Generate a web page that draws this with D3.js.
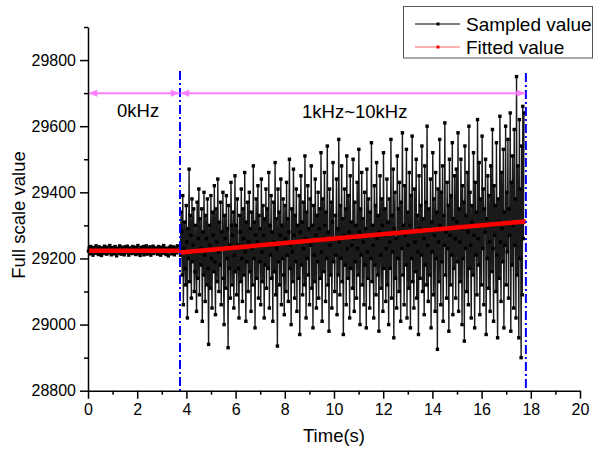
<!DOCTYPE html>
<html>
<head>
<meta charset="utf-8">
<script src="https://cdn.jsdelivr.net/npm/d3@7"></script>
<style>
  body { margin: 0; background: #fff; }
  svg { display: block; font-family: "Liberation Sans", Arial, sans-serif; }
</style>
</head>
<body>
<script>
// ---------------------
// Data
// ---------------------

// 0kHz stage: sampled every ~0.031 s starting at 0.02 s
var baseStart = 0.02, baseStep = 0.0309;
var baseValues = [
  29222,29231,29214,29236,29219,29228,29210,29233,29225,29216,29238,29221,29229,29212,29235,29218,29226,29209,29232,29224,29215,29237,29220,29230,29213,29234,29223,29217,29239,29227,
  29211,29233,29219,29229,29214,29236,29225,29208,29231,29222,29216,29238,29226,29213,29234,29220,29228,29211,29235,29223,29218,29237,29224,29210,29232,29221,29229,29215,29236,29226,
  29217,29234,29212,29230,29221,29239,29214,29227,29209,29233,29224,29218,29236,29211,29229,29220,29238,29213,29231,29225,29216,29235,29210,29228,29222,29237,29215,29232,29219,29226,
  29230,29213,29236,29220,29227,29210,29234,29223,29216,29239,29218,29231,29212,29229,29225,29208,29233,29221,29237,29214,29228,29219,29235,29211,29232,29224,29217,29238,29226,29222
];

// 1kHz~10kHz stage: sampled every ~0.0233 s starting at 3.76 s
var vibStart = 3.76, vibStep = 0.02331;
var vibValues = [
  29210,29340,29280,29150,29390,29060,29230,29310,29170,29120,29360,29250,29020,29290,29200,29470,29130,29330,29270,29080,29380,29190,29240,29350,29100,29160,29300,29220,29040,29370,
  29140,29260,29410,29090,29320,29230,29180,29350,29010,29280,29150,29400,29210,29070,29330,29260,29120,29380,29170,28940,29300,29240,29110,29390,29200,29050,29340,29270,29160,29420,
  29190,29030,29350,29250,29130,29440,29220,29100,29310,29180,29370,29060,29280,29230,29400,29140,29000,29330,29260,29110,29390,29200,29290,28930,29360,29170,29240,29080,29430,29300,
  29120,29270,29340,29050,29210,29450,29160,29300,29090,29380,29240,29170,29020,29330,29280,29130,29410,29200,29070,29350,29260,29150,29460,29220,29010,29310,29190,29370,29100,29250,
  29400,29160,29290,29040,29340,29230,29120,29480,29200,29310,28990,29270,29380,29140,29250,29420,29080,29330,29190,29290,29060,29440,29220,29130,29360,29270,29020,29320,29180,29410,
  29110,29350,29240,29170,29460,29050,29300,29210,29390,29140,29280,29010,29370,29250,29160,29490,29090,29320,29230,28935,29410,29190,29340,29120,29270,29440,29060,29300,29200,29380,
  29150,29030,29360,29260,29100,29430,29210,29320,29070,29280,29500,29170,29240,29000,29350,29220,29130,29470,29270,29080,29330,29190,29410,29040,29300,29250,29140,29390,28970,29280,
  29450,29180,29310,29090,29370,29230,29120,29510,29260,29020,29340,29200,29420,29150,29290,29060,29380,29240,29480,29110,29300,28990,29360,29210,29130,29440,29270,29050,29330,29190,
  29400,29080,29290,29350,29140,29520,29220,29010,29380,29260,29160,29460,29300,29070,29340,29200,29540,29120,29280,28980,29410,29240,29150,29370,29050,29310,29490,29190,29260,29100,
  29330,29210,29440,29030,29290,29150,29560,29250,29090,29360,29200,29480,29130,29320,28970,29270,29410,29180,29350,29060,29510,29230,29140,29390,29280,29020,29450,29170,29310,29240,
  29110,29500,29260,29040,29370,29190,29300,29080,29430,29230,29150,29530,29280,29000,29350,29210,29460,29120,29320,29250,29060,29400,29180,29290,28990,29470,29220,29140,29380,29270,
  29050,29340,29200,29550,29130,29300,29240,29020,29420,29180,29360,29090,29490,29260,29150,29330,28980,29280,29450,29210,29110,29380,29300,29040,29520,29170,29270,29350,29070,29230,
  29440,29120,29310,29000,29380,29250,29170,29560,29080,29330,29220,29470,28960,29290,29400,29140,29260,29050,29510,29200,29350,29100,29430,29280,29010,29370,29230,29580,29150,29300,
  29060,29420,29270,29180,29530,29020,29340,29240,29110,29460,29300,28990,29390,29200,29570,29130,29280,29050,29410,29250,29160,29500,29080,29330,29220,28970,29450,29290,29140,29360,
  29210,29540,29100,29320,29260,29030,29480,29180,29370,29120,29600,29240,29070,29350,29290,29150,29440,28990,29310,29220,29520,29090,29380,29270,29040,29460,29200,29340,28925,29410,
  29250,29130,29560,29300,29060,29400,29190,29480,29010,29330,29240,29610,29150,29280,29080,29430,29230,29360,28980,29500,29270,29120,29390,29210,29550,29030,29320,29170,29450,29260,
  29080,29470,29310,29190,29580,29040,29350,29250,29130,29500,29290,29000,29420,29200,29370,28950,29540,29230,29330,29100,29460,29280,29060,29600,29170,29400,29240,29020,29360,29310,
  29150,29520,29270,28990,29430,29210,29340,29090,29620,29260,29180,29490,29030,29380,29300,29120,29570,29230,29410,29060,29350,29280,29500,28970,29320,29200,29450,29110,29390,29250,
  29040,29480,29300,29160,29590,29230,29010,29420,29270,29360,29100,29550,29210,28960,29380,29310,29140,29630,29250,29070,29460,29290,29190,29530,28990,29340,29240,29600,29120,29400,
  29220,29560,29080,29350,29270,29640,28980,29430,29180,29510,29300,29050,29590,29240,29380,29020,29750,29150,29480,29310,28960,29620,29200,29410,28900,29540,29090,29660,29260,29640
];

// fitted lines (start / end)
var fitBaseX = [0, 3.74], fitBaseY = [29223, 29223];
var fitVibX = [3.74, 17.8], fitVibY = [29218, 29312];

// stage boundaries and labels
var stageEdges = [0, 3.74, 17.8];
var stageLabels = ["0kHz", "1kHz~10kHz"];
var arrowLevel = 29700;

var xMajor = [0,2,4,6,8,10,12,14,16,18,20];
var xMinor = [1,3,5,7,9,11,13,15,17,19];
var yMajor = [28800,29000,29200,29400,29600,29800];
var yMinor = [28900,29100,29300,29500,29700,29900];

var legendItems = ["Sampled value", "Fitted value"];

// ---------------------
// Chart
// ---------------------

var w = 597, h = 449;
var svg = d3.select("body").append("svg").attr("width", w).attr("height", h);
var defs = svg.append("defs");

var x = d3.scaleLinear().domain([0, 20]).range([88, 580]);
var y = d3.scaleLinear().domain([28800, 29900]).range([390.7, 27]);

var samples = [];
baseValues.forEach(function(v, i){ samples.push({t: baseStart + i*baseStep, v: v}); });
vibValues.forEach(function(v, i){ samples.push({t: vibStart + i*vibStep, v: v}); });

var line = d3.line().x(function(d){ return x(d.t); }).y(function(d){ return y(d.v); });

// sampled line + markers
svg.append("path")
  .datum(samples)
  .attr("d", line)
  .attr("fill", "none")
  .attr("stroke", "#1a1a1a")
  .attr("stroke-width", 1.4);

svg.selectAll("rect.pt")
  .data(samples)
  .enter()
  .append("rect")
  .attr("class", "pt")
  .attr("x", function(d){ return x(d.t) - 1.7; })
  .attr("y", function(d){ return y(d.v) - 1.7; })
  .attr("width", 3.4)
  .attr("height", 3.4)
  .attr("fill", "#000");

// fitted lines
[[fitBaseX, fitBaseY], [fitVibX, fitVibY]].forEach(function(f){
  svg.append("line")
    .attr("x1", x(f[0][0])).attr("y1", y(f[1][0]))
    .attr("x2", x(f[0][1])).attr("y2", y(f[1][1]))
    .attr("stroke", "#ff0000")
    .attr("stroke-width", 4.5);
});

// blue dash-dot separators
[stageEdges[1], stageEdges[2]].forEach(function(t, i){
  svg.append("line")
    .attr("x1", x(t)).attr("x2", x(t))
    .attr("y1", i == 0 ? 71 : 73).attr("y2", y(28800))
    .attr("stroke", "#0000ff")
    .attr("stroke-width", 2)
    .attr("stroke-dasharray", "9,3,2,3");
});

// pink arrows
defs.append("marker")
  .attr("id", "arr")
  .attr("viewBox", "0 0 10 8")
  .attr("refX", 10).attr("refY", 4)
  .attr("markerWidth", 11).attr("markerHeight", 7)
  .attr("markerUnits", "userSpaceOnUse")
  .attr("orient", "auto-start-reverse")
  .append("path")
  .attr("d", "M0,0 L10,4 L0,8 Z")
  .attr("fill", "#ff80ff");

for (var i = 0; i < stageLabels.length; i++) {
  svg.append("line")
    .attr("x1", x(stageEdges[i]) + 0.5).attr("x2", x(stageEdges[i+1]) - 0.5)
    .attr("y1", y(arrowLevel)).attr("y2", y(arrowLevel))
    .attr("stroke", "#ff80ff")
    .attr("stroke-width", 2)
    .attr("marker-start", "url(#arr)")
    .attr("marker-end", "url(#arr)");
}

svg.append("text").attr("x", 117).attr("y", 117).attr("font-size", 18.5).text(stageLabels[0]);
svg.append("text").attr("x", 302).attr("y", 118).attr("font-size", 18.5).text(stageLabels[1]);

// axes
var xAxis = svg.append("g").attr("transform", "translate(0," + y(28800) + ")");
xAxis.call(d3.axisBottom(x).tickValues(xMajor).tickSize(8).tickSizeOuter(0).tickPadding(5));
xAxis.append("g").call(d3.axisBottom(x).tickValues(xMinor).tickSize(4).tickFormat(""))
  .select(".domain").remove();

var yAxis = svg.append("g").attr("transform", "translate(" + x(0) + ",0)");
yAxis.call(d3.axisLeft(y).tickValues(yMajor).tickSize(8).tickSizeOuter(0).tickPadding(4).tickFormat(d3.format("d")));
yAxis.append("g").call(d3.axisLeft(y).tickValues(yMinor).tickSize(4).tickFormat(""))
  .select(".domain").remove();

svg.selectAll(".domain, .tick line").attr("stroke", "#000").attr("stroke-width", 1.5);
svg.selectAll(".tick text").attr("font-size", 16).attr("fill", "#000")
  .attr("font-family", "'Liberation Sans', Arial, sans-serif");

// axis titles
svg.append("text")
  .attr("x", x(10)).attr("y", 442)
  .attr("text-anchor", "middle")
  .attr("font-size", 18.5)
  .text("Time(s)");

svg.append("text")
  .attr("transform", "translate(25,215) rotate(-90)")
  .attr("text-anchor", "middle")
  .attr("font-size", 18.5)
  .text("Full scale value");

// legend
var lg = svg.append("g");
lg.append("rect")
  .attr("x", 403.5).attr("y", 6.5)
  .attr("width", 189).attr("height", 51.5)
  .attr("fill", "#fff")
  .attr("stroke", "#555")
  .attr("stroke-width", 1);

var lgColors = [["#000", "#000"], ["#ffb0b0", "#ff0000"]];
legendItems.forEach(function(name, i){
  var ly = 24 + i*23;
  lg.append("line")
    .attr("x1", 415).attr("x2", 460)
    .attr("y1", ly).attr("y2", ly)
    .attr("stroke", lgColors[i][0])
    .attr("stroke-width", i == 0 ? 1 : 2);
  lg.append("rect")
    .attr("x", 436.5).attr("y", ly - 1.5)
    .attr("width", 3).attr("height", 3)
    .attr("fill", lgColors[i][1]);
  lg.append("text")
    .attr("x", 466).attr("y", ly + 6.5)
    .attr("font-size", 19)
    .text(name);
});
</script>
</body>
</html>
